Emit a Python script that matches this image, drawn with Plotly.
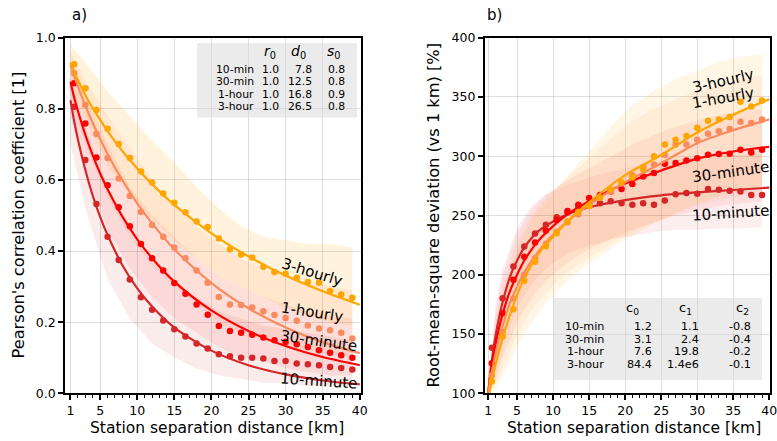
import plotly.graph_objects as go

W, H = 777, 441
FONT = "DejaVu Sans"

# ---------------- data ----------------
series = ["10-minute", "30-minute", "1-hourly", "3-hourly"]
table_names = ["10-min", "30-min", "1-hour", "3-hour"]
colors = ["#d62728", "#ff0000", "#fb8b5e", "#ffa500"]
band_rgb = ["214,39,40", "255,0,0", "251,139,94", "255,165,0"]
band_alpha_corr = [0.09, 0.08, 0.12, 0.13]
band_alpha_rmsd = [0.08, 0.065, 0.09, 0.10]

# binned station-pair statistics (bin centres, km)
bin_d = [1.5, 3.0, 4.5, 6.0, 7.5, 9.0, 10.5, 12.0, 13.5, 15.0, 16.5, 18.0, 19.5,
         21.0, 22.5, 24.0, 25.5, 27.0, 28.5, 30.0, 31.5, 33.0, 34.5, 36.0, 37.5, 39.0]

corr_bins = {
    "10-minute": [0.806, 0.656, 0.532, 0.440, 0.375, 0.320, 0.270, 0.235, 0.205, 0.180, 0.160, 0.140, 0.126,
                  0.110, 0.104, 0.100, 0.100, 0.098, 0.091, 0.091, 0.084, 0.082, 0.079, 0.074, 0.071, 0.067],
    "30-minute": [0.872, 0.759, 0.663, 0.585, 0.523, 0.470, 0.420, 0.380, 0.345, 0.310, 0.280, 0.250, 0.221,
                  0.189, 0.175, 0.170, 0.165, 0.157, 0.149, 0.144, 0.138, 0.130, 0.121, 0.114, 0.107, 0.100],
    "1-hourly": [0.900, 0.811, 0.729, 0.662, 0.604, 0.555, 0.510, 0.473, 0.440, 0.410, 0.380, 0.345, 0.311,
                 0.271, 0.250, 0.248, 0.241, 0.231, 0.220, 0.212, 0.204, 0.191, 0.182, 0.177, 0.170, 0.154],
    "3-hourly": [0.925, 0.858, 0.797, 0.744, 0.701, 0.662, 0.624, 0.593, 0.562, 0.536, 0.509, 0.483, 0.468,
                 0.435, 0.405, 0.390, 0.382, 0.356, 0.341, 0.336, 0.325, 0.313, 0.311, 0.288, 0.278, 0.269],
}

rmsd_bins = {
    "10-minute": [138.5, 180.2, 206.9, 223.8, 234.8, 242.1, 248.6, 252.5, 257.1, 259.9, 260.4, 262.1, 260.4,
                  259.0, 260.4, 259.0, 262.6, 268.0, 268.9, 268.3, 272.3, 271.7, 270.8, 270.2, 267.4, 267.4],
    "30-minute": [125.3, 167.5, 195.7, 215.3, 227.2, 237.3, 246.3, 253.9, 259.0, 264.7, 267.4, 270.2, 272.3,
                  276.5, 282.9, 285.8, 293.6, 294.2, 296.4, 298.4, 301.2, 301.8, 302.1, 305.5, 303.2, 305.5],
    "1-hourly": [115, 152, 180, 200, 214, 226, 236, 244, 251, 258, 265, 270, 277,
                 284, 291, 293, 301, 310, 310, 314, 319, 321, 323, 329, 328, 331],
    "3-hourly": [110, 148, 171, 195, 211, 224, 235, 245, 253, 258, 265, 272, 278,
                 282, 289, 300, 310, 314, 317, 324, 330, 331, 333, 346, 342, 347],
}

# spread of the station pairs per bin (lower / upper envelope)
band_d = [1, 3, 6, 9, 12, 15, 18, 21, 24, 27, 30, 33, 36, 39]
corr_band_lo = {
    "10-minute": [0.70, 0.52, 0.32, 0.21, 0.14, 0.10, 0.07, 0.05, 0.04, 0.03, 0.03, 0.02, 0.02, 0.02],
    "30-minute": [0.78, 0.63, 0.46, 0.35, 0.27, 0.21, 0.17, 0.13, 0.10, 0.09, 0.07, 0.06, 0.05, 0.05],
    "1-hourly": [0.82, 0.70, 0.55, 0.44, 0.36, 0.30, 0.25, 0.20, 0.17, 0.15, 0.13, 0.12, 0.11, 0.10],
    "3-hourly": [0.86, 0.77, 0.64, 0.56, 0.49, 0.43, 0.38, 0.33, 0.30, 0.27, 0.24, 0.22, 0.20, 0.19],
}
corr_band_hi = {
    "10-minute": [0.88, 0.75, 0.58, 0.45, 0.37, 0.31, 0.27, 0.23, 0.21, 0.19, 0.18, 0.17, 0.16, 0.15],
    "30-minute": [0.93, 0.84, 0.70, 0.58, 0.50, 0.44, 0.38, 0.33, 0.30, 0.27, 0.25, 0.23, 0.22, 0.21],
    "1-hourly": [0.96, 0.88, 0.78, 0.69, 0.60, 0.53, 0.47, 0.42, 0.38, 0.35, 0.33, 0.31, 0.30, 0.29],
    "3-hourly": [0.98, 0.93, 0.85, 0.78, 0.71, 0.65, 0.58, 0.52, 0.47, 0.44, 0.43, 0.42, 0.42, 0.41],
}
rmsd_band_d = [1, 2, 3, 5, 7, 9, 12, 15, 18, 21, 24, 27, 30, 33, 36, 39]
rmsd_band_lo = {
    "10-minute": [100, 118, 140, 172, 192, 205, 218, 225, 230, 233, 236, 238, 238, 239, 239, 240],
    "30-minute": [100, 112, 130, 160, 180, 195, 210, 222, 230, 238, 244, 250, 254, 258, 260, 262],
    "1-hourly": [100, 108, 122, 150, 170, 185, 202, 215, 226, 236, 244, 252, 258, 263, 267, 270],
    "3-hourly": [100, 104, 114, 140, 160, 176, 195, 210, 222, 233, 243, 252, 260, 266, 271, 275],
}
rmsd_band_hi = {
    "10-minute": [100, 175, 205, 240, 258, 268, 276, 282, 287, 291, 295, 297, 299, 300, 301, 302],
    "30-minute": [100, 168, 200, 235, 255, 268, 280, 290, 300, 310, 318, 325, 330, 335, 338, 340],
    "1-hourly": [100, 160, 192, 228, 250, 265, 282, 298, 315, 330, 340, 348, 355, 360, 365, 368],
    "3-hourly": [100, 150, 182, 222, 246, 262, 284, 304, 325, 343, 355, 365, 372, 380, 384, 386],
}

# fitted models, sampled along distance
corr_fit_d = [1, 1.5, 2, 3, 4, 5, 6, 8, 10, 12, 15, 20, 25, 30, 35, 40]
corr_fit = {
    "10-minute": [0.824, 0.765, 0.714, 0.628, 0.556, 0.496, 0.445, 0.360, 0.295, 0.244, 0.185, 0.120, 0.079, 0.053, 0.036, 0.025],
    "30-minute": [0.876, 0.831, 0.794, 0.727, 0.669, 0.618, 0.574, 0.497, 0.433, 0.380, 0.314, 0.233, 0.175, 0.133, 0.102, 0.079],
    "1-hourly": [0.924, 0.892, 0.863, 0.809, 0.760, 0.715, 0.673, 0.599, 0.534, 0.478, 0.405, 0.310, 0.239, 0.185, 0.144, 0.113],
    "3-hourly": [0.930, 0.904, 0.881, 0.839, 0.802, 0.769, 0.737, 0.681, 0.632, 0.588, 0.530, 0.450, 0.385, 0.331, 0.287, 0.249],
}
rmsd_fit_d = [1, 1.25, 1.5, 2, 2.5, 3, 4, 5, 6, 8, 10, 12, 15, 20, 25, 30, 35, 40]
rmsd_fit = {
    "10-minute": [100, 116, 128, 148, 164, 177, 198, 212, 223, 237, 245, 251, 257, 263, 267, 269.5, 271.5, 273.5],
    "30-minute": [100, 113, 123, 141, 155, 167, 186, 200, 212, 229, 241, 251, 262, 277, 288, 298, 304, 308],
    "1-hourly": [100, 110, 118, 133, 146, 157, 176, 190, 202, 220, 234, 245, 259, 278, 294, 311, 322, 331],
    "3-hourly": [94, 103, 111, 124, 136, 147, 166, 183, 197, 218, 232, 245, 261, 284, 301, 320, 335, 348],
}

# fit parameters printed in the panels
corr_params = {"r0": ["1.0", "1.0", "1.0", "1.0"],
               "d0": ["7.8", "12.5", "16.8", "26.5"],
               "s0": ["0.8", "0.8", "0.9", "0.8"]}
rmsd_params = {"c0": ["1.2", "3.1", "7.6", "84.4"],
               "c1": ["1.1", "2.4", "19.8", "1.4e6"],
               "c2": ["-0.8", "-0.4", "-0.2", "-0.1"]}

x_ticks = [1, 5, 10, 15, 20, 25, 30, 35, 40]
corr_ticks = [0.0, 0.2, 0.4, 0.6, 0.8, 1.0]
rmsd_ticks = [100, 150, 200, 250, 300, 350, 400]


# ---------------- helpers ----------------
def px(x):
    return x / W


def py(y):
    return 1 - y / H


fig = go.Figure()


def add_panel(xa, ya, bands_lo, bands_hi, bd, alphas, fit_d, fit, bins):
    for i, s in enumerate(series):
        xs = bd + bd[::-1]
        ys = bands_hi[s] + bands_lo[s][::-1]
        fig.add_trace(go.Scatter(x=xs, y=ys, xaxis=xa, yaxis=ya, fill="toself",
                                 fillcolor=f"rgba({band_rgb[i]},{alphas[i]})", line=dict(width=0),
                                 mode="lines", hoverinfo="skip", showlegend=False))
    for i, s in enumerate(series):
        fig.add_trace(go.Scatter(x=fit_d, y=fit[s], xaxis=xa, yaxis=ya, mode="lines",
                                 line=dict(color=colors[i], width=2.2, shape="spline", smoothing=0.8),
                                 showlegend=False))
        fig.add_trace(go.Scatter(x=bin_d, y=bins[s], xaxis=xa, yaxis=ya, mode="markers",
                                 marker=dict(color=colors[i], size=6.5, line=dict(width=0)),
                                 showlegend=False))


add_panel("x", "y", corr_band_lo, corr_band_hi, band_d, band_alpha_corr, corr_fit_d, corr_fit, corr_bins)
add_panel("x2", "y2", rmsd_band_lo, rmsd_band_hi, rmsd_band_d, band_alpha_rmsd, rmsd_fit_d, rmsd_fit, rmsd_bins)

tickfont = dict(family=FONT, size=12.5, color="black")
grid = "rgba(0,0,0,0.13)"


def xaxis(domain, rng, anchor):
    return dict(domain=domain, range=rng, anchor=anchor, tickmode="array", tickvals=x_ticks,
                ticktext=[str(v) for v in x_ticks], ticks="outside", ticklen=5, tickwidth=1.6,
                tickcolor="black", showline=True, linecolor="black", linewidth=2.2, mirror=True,
                showgrid=True, gridcolor=grid, gridwidth=1, zeroline=False, tickfont=tickfont,
                automargin=False, ticklabeloverflow="allow",
                minor=dict(dtick=1, tick0=0, ticks="outside", ticklen=3, tickwidth=1.1,
                           tickcolor="black", showgrid=False))


def yaxis(domain, rng, anchor, vals, fmt):
    return dict(domain=domain, range=rng, anchor=anchor, tickmode="array", tickvals=vals,
                ticktext=[fmt.format(v) for v in vals], ticks="outside", ticklen=5, tickwidth=1.6,
                tickcolor="black", showline=True, linecolor="black", linewidth=2.2, mirror=True,
                showgrid=True, gridcolor=grid, gridwidth=1, zeroline=False, tickfont=tickfont,
                automargin=False, ticklabeloverflow="allow")


ydom = [py(393.3), py(37.7)]
fig.update_layout(
    width=W, height=H, autosize=False, margin=dict(l=0, r=0, t=0, b=0, pad=0),
    paper_bgcolor="white", plot_bgcolor="white",
    xaxis=xaxis([px(65.3), px(360.5)], [0.3, 40.1], "y"),
    yaxis=yaxis(ydom, [0, 1], "x", corr_ticks, "{:.1f}"),
    xaxis2=xaxis([px(485), px(770)], [0.55, 40.1], "y2"),
    yaxis2=yaxis(ydom, [100, 400], "x2", rmsd_ticks, "{:d}"),
    font=dict(family=FONT, color="black"),
)

ann = []


def text(x, y, t, size, xanchor="center", angle=0, xref="paper", yref="paper"):
    if xref == "paper":
        x, y = px(x), py(y)
    ann.append(dict(x=x, y=y, xref=xref, yref=yref, text=t, showarrow=False,
                    xanchor=xanchor, yanchor="middle", textangle=angle, borderpad=0,
                    font=dict(family=FONT, size=size, color="black")))


# panel tags and axis titles
text(79, 15, "a)", 15)
text(494, 15, "b)", 15)
text(217, 428, "Station separation distance [km]", 15.5)
text(634, 428, "Station separation distance [km]", 15.5)
text(18, 215.5, "Pearson's correlation coefficient [1]", 16.2, angle=-90)
text(433, 215.5, "Root-mean-square deviation (vs 1 km) [%]", 16.2, angle=-90)

# series labels along the curves
text(33.5, 0.342, "3-hourly", 15, angle=17, xref="x", yref="y")
text(33.5, 0.229, "1-hourly", 15, angle=9, xref="x", yref="y")
text(34.5, 0.148, "30-minute", 15, angle=8, xref="x", yref="y")
text(34.5, 0.035, "10-minute", 15, angle=4, xref="x", yref="y")
text(33.6, 363.7, "3-hourly", 15, angle=-13, xref="x2", yref="y2")
text(33.6, 348.9, "1-hourly", 15, angle=-10, xref="x2", yref="y2")
text(34.65, 287.0, "30-minute", 15, angle=-8, xref="x2", yref="y2")
text(34.65, 251.9, "10-minute", 15, angle=-4, xref="x2", yref="y2")

# parameter tables
shapes = [
    dict(type="rect", xref="paper", yref="paper", x0=px(197), x1=px(357), y0=py(117.5), y1=py(43),
         fillcolor="rgba(215,215,215,0.5)", line=dict(width=0), layer="above"),
    dict(type="rect", xref="paper", yref="paper", x0=px(553), x1=px(762), y0=py(380), y1=py(298),
         fillcolor="rgba(215,215,215,0.5)", line=dict(width=0), layer="above"),
]

text(270, 52, "<i>r</i><sub>0</sub>", 14)
text(298, 52, "<i>d</i><sub>0</sub>", 14)
text(334, 52, "<i>s</i><sub>0</sub>", 14)
rows_l = [69.5, 81.9, 94.3, 106.7]
for k, name in enumerate(table_names):
    text(255, rows_l[k], name, 10.8, xanchor="right")
    text(280, rows_l[k], corr_params["r0"][k], 10.8, xanchor="right")
    text(313, rows_l[k], corr_params["d0"][k], 10.8, xanchor="right")
    text(346, rows_l[k], corr_params["s0"][k], 10.8, xanchor="right")

text(632, 308, "c<sub>0</sub>", 13)
text(685, 308, "c<sub>1</sub>", 13)
text(742, 308, "c<sub>2</sub>", 13)
rows_r = [326.3, 339.1, 351.9, 364.7]
for k, name in enumerate(table_names):
    text(605, rows_r[k], name, 11.2, xanchor="right")
    text(653, rows_r[k], rmsd_params["c0"][k], 11.2, xanchor="right")
    text(700, rows_r[k], rmsd_params["c1"][k], 11.2, xanchor="right")
    text(752, rows_r[k], rmsd_params["c2"][k], 11.2, xanchor="right")

fig.update_layout(annotations=ann, shapes=shapes)
fig.write_html("out.html")
